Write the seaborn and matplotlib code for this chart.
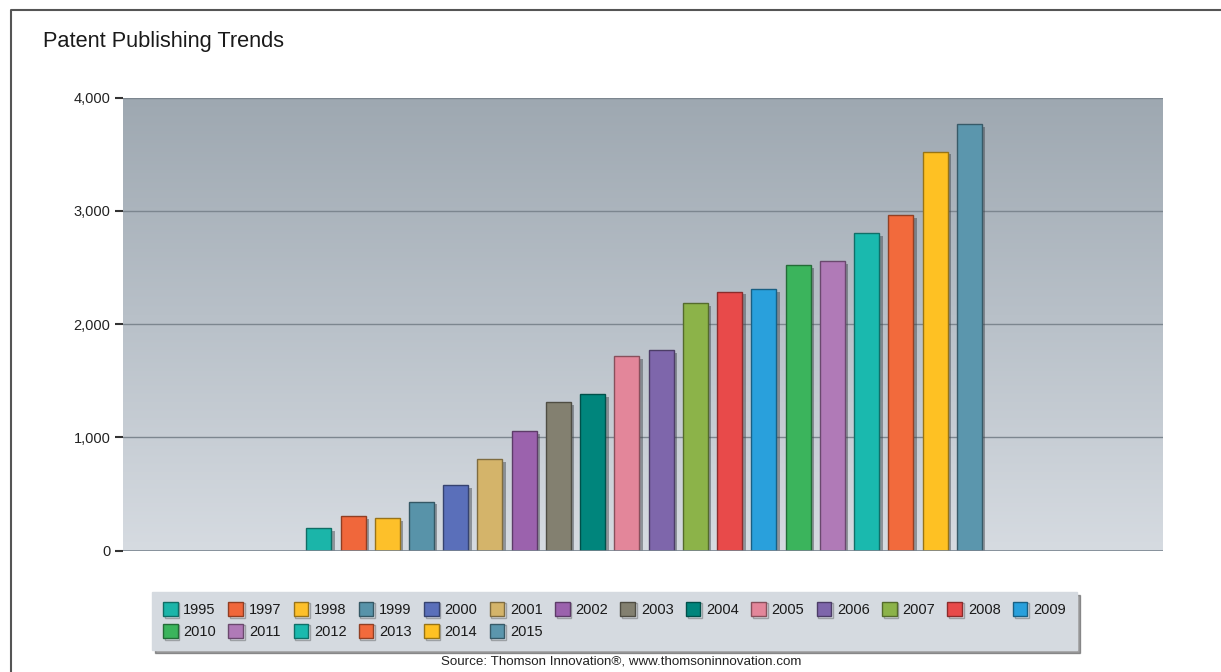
import numpy as np
import pandas as pd
import matplotlib
matplotlib.use("Agg")
import matplotlib.pyplot as plt
import matplotlib.patheffects as pe
from matplotlib.colors import LinearSegmentedColormap, to_rgb
from matplotlib.lines import Line2D
import seaborn as sns

# ---- data ----
years = ["1995", "1997", "1998", "1999", "2000", "2001", "2002", "2003", "2004", "2005",
         "2006", "2007", "2008", "2009", "2010", "2011", "2012", "2013", "2014", "2015"]
patents = [198, 303, 291, 433, 580, 810, 1057, 1313, 1381, 1719,
           1773, 2185, 2287, 2308, 2523, 2558, 2803, 2964, 3523, 3768]
colors = ["#1bb5a9", "#f0673b", "#fdc02a", "#5893a9", "#5a6fba", "#d4b46a", "#9b62ad",
          "#838070", "#00857c", "#e3869a", "#7e66ab", "#8cb349", "#e84a4a", "#29a0dc",
          "#3bb45c", "#b07ab7", "#1ab9ae", "#f26a3c", "#fec123", "#5b96ad"]
yticks = [0, 1000, 2000, 3000, 4000]

df = pd.DataFrame({"year": years, "patents": patents})

sns.set_theme(style="white")
plt.rcParams["font.family"] = ["Liberation Sans", "DejaVu Sans"]

W, H = 1221, 672
fig = plt.figure(figsize=(W / 100, H / 100), dpi=100)
ax = fig.add_axes([123 / W, 1 - 550.7 / H, (1163 - 123) / W, (550.7 - 97.5) / H])

palette = dict(zip(years, colors))
sns.barplot(data=df, x="year", y="patents", hue="year", palette=palette,
            width=0.73, legend=False, ax=ax, zorder=3, saturation=1)

xlim = (-5.72, 24.66)
ax.set_xlim(*xlim)
ax.set_ylim(0, 4000)

# gradient background
grad = np.linspace(0, 1, 256).reshape(-1, 1)
cmap = LinearSegmentedColormap.from_list("bg", ["#d6dbe1", "#b9c1c9", "#9ea8b1"])
ax.imshow(grad, extent=[xlim[0], xlim[1], 0, 4000], origin="lower", aspect="auto",
          cmap=cmap, zorder=0)

def darker(c, f=0.6):
    r, g, b = to_rgb(c)
    return (r * f, g * f, b * f)

for p, c in zip(ax.patches, colors):
    p.set_edgecolor(darker(c))
    p.set_linewidth(1.0)
    p.set_path_effects([pe.SimplePatchShadow(offset=(2.5, -2), shadow_rgbFace="#3a3f45", alpha=0.45),
                        pe.Normal()])

for y in yticks[1:]:
    ax.axhline(y, color="#7c868f", lw=1.0, zorder=1)
ax.axhline(0, color="#7a8590", lw=1.2, zorder=4)

for s in ax.spines.values():
    s.set_visible(False)

ax.set_xticks([])
ax.set_xlabel("")
ax.set_ylabel("")
ax.set_yticks(yticks)
ax.set_yticklabels([f"{v:,}" for v in yticks], fontsize=10.5, color="#222222")
ax.tick_params(axis="y", direction="out", length=6, width=1.5, color="#333333", pad=3, left=True)

# title and source
fig.text(43 / W, 1 - 42 / H, "Patent Publishing Trends", fontsize=15.7, color="#1a1a1a",
         ha="left", va="center")
fig.text(621 / W, 1 - 661 / H, "Source: Thomson Innovation®, www.thomsoninnovation.com",
         fontsize=9.6, color="#222222", ha="center", va="center")

# legend (matplotlib fills columns first -> reorder so rows read left to right)
ncol = 14
row0 = list(range(ncol))
row1 = list(range(ncol, len(years)))
order = []
for j in range(ncol):
    order.append(row0[j])
    if j < len(row1):
        order.append(row1[j])

handles = [Line2D([], [], linestyle="none", marker="s", markersize=10.5,
                  markerfacecolor=c, markeredgecolor=darker(c), markeredgewidth=1.0,
                  path_effects=[pe.SimpleLineShadow(offset=(1.2, -1.2), alpha=0.3), pe.Normal()])
           for c in colors]
leg = fig.legend([handles[i] for i in order], [years[i] for i in order], ncol=ncol,
                 loc="upper left", mode="expand",
                 bbox_to_anchor=(152 / W, 1 - 650 / H, (1077 - 152) / W, 58 / H),
                 fontsize=10.5, frameon=True, fancybox=False, shadow=True,
                 facecolor="#d5dae0", edgecolor="#d5dae0", framealpha=1,
                 handlelength=1.0, handletextpad=0.4, columnspacing=0.6,
                 labelspacing=0.55, borderpad=0.75, borderaxespad=0)
for t in leg.get_texts():
    t.set_color("#1a1a1a")

# outer frame (left and top edges)
fig.add_artist(Line2D([11 / W, 11 / W, 1.0], [0, 1 - 10 / H, 1 - 10 / H],
                      transform=fig.transFigure, color="#555555", lw=1.5))

fig.savefig("out.png", dpi=100, facecolor="white")
